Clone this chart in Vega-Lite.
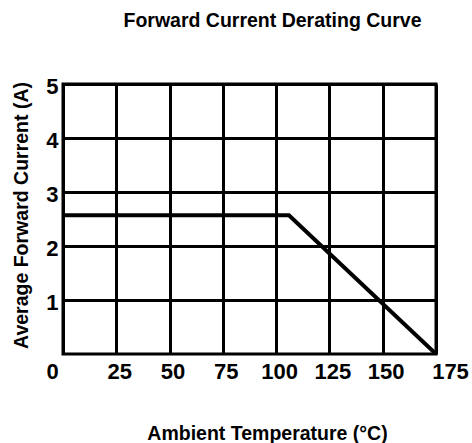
{
  "$schema": "https://vega.github.io/schema/vega-lite/v6.json",
  "autosize": "none",
  "width": 373,
  "height": 270,
  "padding": {"left": 63, "top": 84, "right": 36, "bottom": 89},
  "background": "white",
  "title": {
    "text": "Forward Current Derating Curve",
    "font": "Liberation Sans",
    "fontSize": 19.5,
    "fontWeight": "bold",
    "color": "black",
    "anchor": "middle",
    "frame": "group",
    "baseline": "alphabetic",
    "offset": 29,
    "dx": 23
  },
  "config": {
    "view": {"stroke": "black", "strokeWidth": 3},
    "axis": {
      "grid": true,
      "gridColor": "black",
      "gridWidth": 3,
      "gridOpacity": 1,
      "domain": false,
      "ticks": false,
      "labelFont": "Liberation Sans",
      "labelFontWeight": "bold",
      "labelFontSize": 22,
      "labelColor": "black",
      "titleFont": "Liberation Sans",
      "titleFontWeight": "bold",
      "titleFontSize": 19.5,
      "titleColor": "black"
    }
  },
  "data": {
    "values": [
      {"temp": 0, "current": 2.57},
      {"temp": 106, "current": 2.57},
      {"temp": 175, "current": 0}
    ]
  },
  "mark": {"type": "line", "color": "black", "strokeWidth": 4, "clip": true},
  "encoding": {
    "x": {
      "field": "temp",
      "type": "quantitative",
      "scale": {"domain": [0, 175], "nice": false, "zero": false},
      "axis": {
        "values": [0, 25, 50, 75, 100, 125, 150, 175],
        "title": "Ambient Temperature (°C)",
        "labelPadding": 7,
        "labelBaseline": "top",
        "labelFlush": false,
        "labelOffset": {"condition": [{"test": "datum.value == 0", "value": -11}, {"test": "datum.value == 175", "value": 14}], "value": 3},
        "titleBaseline": "alphabetic",
        "titleX": 204,
        "titleY": 85,
        "titleAnchor": null
      }
    },
    "y": {
      "field": "current",
      "type": "quantitative",
      "scale": {"domain": [0, 5], "nice": false},
      "axis": {
        "values": [1, 2, 3, 4, 5],
        "title": "Average Forward Current (A)",
        "labelPadding": 5,
        "labelBaseline": "middle",
        "labelOffset": 2,
        "labelFlush": false,
        "titleBaseline": "alphabetic",
        "titleAngle": -90,
        "titleX": -36,
        "titleY": 131,
        "titleAlign": "center"
      }
    }
  }
}
